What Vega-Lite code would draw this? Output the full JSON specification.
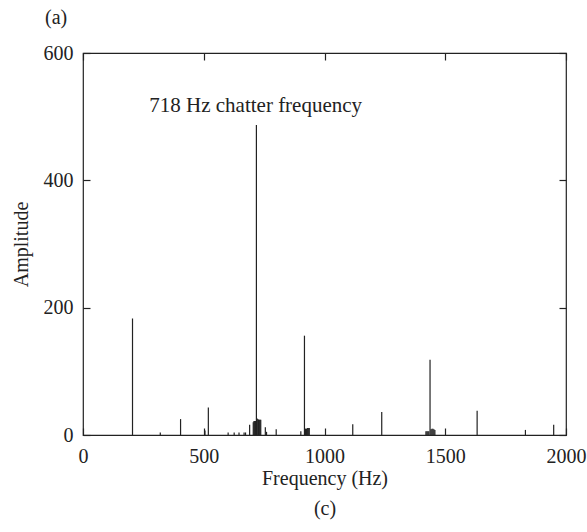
{
  "$schema": "https://vega.github.io/schema/vega-lite/v6.json",
  "width": 483,
  "height": 382,
  "autosize": {"type": "none"},
  "padding": {"left": 83, "top": 53, "right": 21, "bottom": 97},
  "background": "white",
  "config": {
    "font": "Liberation Serif",
    "view": {"stroke": "#222", "strokeWidth": 1.2},
    "axis": {
      "labelFont": "Liberation Serif", "titleFont": "Liberation Serif",
      "labelFontSize": 20, "titleFontSize": 20, "titleFontWeight": "normal",
      "labelColor": "#222", "titleColor": "#222", "tickColor": "#222",
      "tickSize": 7, "offset": -7, "tickWidth": 1.2, "domain": false, "grid": false,
      "format": "d", "labelFlush": false, "labelOverlap": false
    }
  },
  "title": {"text": "(a)", "anchor": "start", "frame": "group", "dx": -38, "offset": 15, "fontSize": 20, "fontWeight": "normal", "font": "Liberation Serif", "color": "#222"},
  "datasets": {
    "spectrum": [
      {"freq": 205, "amp": 183}, {"freq": 320, "amp": 4}, {"freq": 404, "amp": 25},
      {"freq": 505, "amp": 7}, {"freq": 519, "amp": 43}, {"freq": 601, "amp": 4},
      {"freq": 626, "amp": 4}, {"freq": 646, "amp": 4}, {"freq": 667, "amp": 4},
      {"freq": 673, "amp": 4}, {"freq": 690, "amp": 16}, {"freq": 705, "amp": 20},
      {"freq": 708, "amp": 22}, {"freq": 711, "amp": 22}, {"freq": 714, "amp": 22},
      {"freq": 718, "amp": 487}, {"freq": 721, "amp": 26}, {"freq": 724, "amp": 25},
      {"freq": 727, "amp": 24}, {"freq": 730, "amp": 24}, {"freq": 733, "amp": 24},
      {"freq": 736, "amp": 24}, {"freq": 755, "amp": 12}, {"freq": 760, "amp": 5},
      {"freq": 800, "amp": 9}, {"freq": 902, "amp": 6}, {"freq": 917, "amp": 156},
      {"freq": 921, "amp": 10}, {"freq": 925, "amp": 10}, {"freq": 929, "amp": 11},
      {"freq": 933, "amp": 11}, {"freq": 937, "amp": 11}, {"freq": 1117, "amp": 17},
      {"freq": 1237, "amp": 36}, {"freq": 1420, "amp": 6}, {"freq": 1424, "amp": 6},
      {"freq": 1428, "amp": 6}, {"freq": 1432, "amp": 6}, {"freq": 1437, "amp": 118},
      {"freq": 1441, "amp": 9}, {"freq": 1445, "amp": 10}, {"freq": 1449, "amp": 10},
      {"freq": 1453, "amp": 9}, {"freq": 1457, "amp": 8}, {"freq": 1632, "amp": 38},
      {"freq": 1832, "amp": 8}, {"freq": 1949, "amp": 16}
    ],
    "notes": [
      {"freq": 715, "amp": 516, "label": "718 Hz chatter frequency"}
    ]
  },
  "layer": [
    {
      "data": {"name": "spectrum"},
      "mark": {"type": "rule", "color": "#222", "strokeWidth": 1.2},
      "encoding": {
        "x": {"field": "freq", "type": "quantitative",
          "scale": {"domain": [0, 2000], "nice": false, "zero": false},
          "axis": {"orient": "bottom", "values": [0, 500, 1000, 1500, 2000], "labelPadding": 11,
            "title": ["Frequency (Hz)", "(c)"], "titleLineHeight": 30, "titlePadding": 2}},
        "y": {"field": "amp", "type": "quantitative",
          "scale": {"domain": [0, 600], "nice": false},
          "axis": {"orient": "left", "values": [0, 200, 400, 600], "labelPadding": 10,
            "title": "Amplitude", "titlePadding": 12}},
        "y2": {"datum": 0}
      }
    },
    {
      "data": {"name": "notes"},
      "mark": {"type": "text", "font": "Liberation Serif", "fontSize": 21, "color": "#222", "align": "center", "baseline": "middle"},
      "encoding": {
        "x": {"field": "freq", "type": "quantitative",
          "axis": {"orient": "top", "values": [0, 500, 1000, 1500, 2000], "labels": false, "title": null}},
        "y": {"field": "amp", "type": "quantitative",
          "axis": {"orient": "right", "values": [0, 200, 400, 600], "labels": false, "title": null}},
        "text": {"field": "label"}
      }
    }
  ],
  "resolve": {"axis": {"x": "independent", "y": "independent"}}
}
